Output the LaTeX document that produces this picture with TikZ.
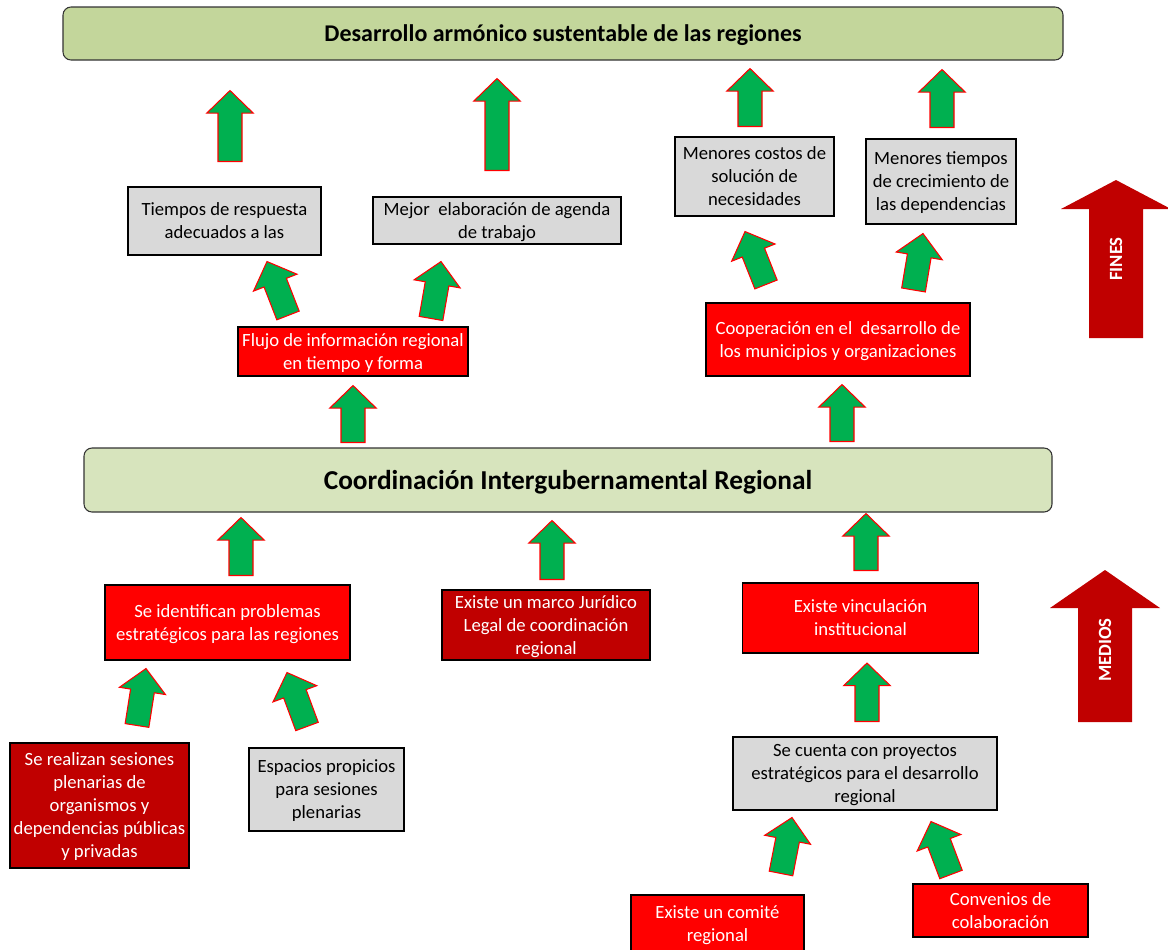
\documentclass[tikz,border=0pt]{standalone}
\usepackage{fontspec}
\setmainfont{Carlito}
\usetikzlibrary{calc}

\definecolor{topgreen}{HTML}{C3D69B}
\definecolor{midgreen}{HTML}{D7E4BD}
\definecolor{boxgray}{HTML}{D9D9D9}
\definecolor{boxred}{HTML}{FF0000}
\definecolor{darkred}{HTML}{C00000}
\definecolor{arrowgreen}{HTML}{00B050}

% block arrow from (#1)+(#2) up to (#3)+(#4)
\newcommand\garrow[4]{%
  \path ($(#1)+(#2)$) coordinate (ga) ($(#3)+(#4)$) coordinate (gb)
    ($(gb)!17pt!(ga)$) coordinate (gh);
  \draw[uparrow] ($(ga)!9pt!90:(gb)$) -- ($(gh)!9pt!90:(gb)$) -- ($(gh)!17.5pt!90:(gb)$) -- (gb)
    -- ($(gh)!17.5pt!-90:(gb)$) -- ($(gh)!9pt!-90:(gb)$) -- ($(ga)!9pt!-90:(gb)$) -- cycle;}

\begin{document}
\begin{tikzpicture}[x=0.75pt,y=-0.75pt,
  box/.style={draw=black,line width=0.8pt,align=center,inner sep=1pt,text depth=0pt,font=\fontsize{14}{17.25}\selectfont},
  sz/.style 2 args={minimum width=#1*0.75pt,minimum height=#2*0.75pt},
  graybox/.style={box,fill=boxgray},
  redbox/.style={box,fill=boxred,text=white},
  darkbox/.style={box,fill=darkred,text=white},
  titlebox/.style={draw=black!80,line width=0.8pt,rounded corners=6pt,text depth=0pt},
  uparrow/.style={fill=arrowgreen,draw=red,line width=0.8pt,line join=miter},
  sidelabel/.style={rotate=90,text=white,font=\bfseries\fontsize{14}{16}\selectfont}]
\useasboundingbox (0,0) rectangle (1168,950);

\node[titlebox,fill=topgreen,sz={1000}{53},font=\bfseries\fontsize{18}{22}\selectfont] (top) at (563,33.5) {Desarrollo armónico sustentable de las regiones};
\node[titlebox,fill=midgreen,sz={968}{64},font=\bfseries\fontsize{20.5}{24}\selectfont] (coord) at (568,480) {Coordinación Intergubernamental Regional};

% fines
\node[graybox,sz={193}{68}] (tiempos) at (224.5,221) {Tiempos de respuesta\\adecuados a las};
\node[graybox,sz={248}{47}] (agenda) at (497,220.5) {Mejor~ elaboración de agenda\\de trabajo};
\node[graybox,sz={159}{79}] (costos) at (754.5,176.5) {Menores costos de\\solución de\\necesidades};
\node[graybox,sz={150}{85}] (crecim) at (941,181.5) {Menores tiempos\\de crecimiento de\\las dependencias};
\node[redbox,sz={230}{49}] (flujo) at (353,351.5) {Flujo de información regional\\en tiempo y forma};
\node[redbox,sz={264}{73}] (coop) at (838,339.5) {Cooperación en el~ desarrollo de\\los municipios y organizaciones};

% medios
\node[redbox,sz={245}{75}] (problemas) at (227.5,622.5) {Se identifican problemas\\estratégicos para las regiones};
\node[darkbox,sz={208}{70}] (marco) at (546,625) {Existe un marco Jurídico\\Legal de coordinación\\regional};
\node[redbox,sz={236}{70}] (vinculo) at (860.5,618) {Existe vinculación\\institucional};
\node[darkbox,sz={179}{125}] (sesiones) at (99.5,805.5) {Se realizan sesiones\\plenarias de\\organismos y\\dependencias públicas\\y privadas};
\node[graybox,sz={155}{83}] (espacios) at (326.5,789.5) {Espacios propicios\\para sesiones\\plenarias};
\node[graybox,sz={264}{73}] (proyectos) at (865,773.5) {Se cuenta con proyectos\\estratégicos para el desarrollo\\regional};
\node[redbox,sz={173}{58}] (comite) at (717.5,924) {Existe un comité\\regional};
\node[redbox,sz={175}{53}] (convenios) at (1000.5,910.5) {Convenios de\\colaboración};

\garrow{tiempos.north}{5.5,-25}{top.south}{-333,30}
\garrow{agenda.north}{0,-26}{top.south}{-66,18}
\garrow{costos.north}{-4.5,-10}{top.south}{187,8}
\garrow{crecim.north}{1,-11}{top.south}{379,9}
\garrow{flujo.north}{-65,-11}{tiempos.south}{42.5,6}
\garrow{flujo.north}{78,-8}{agenda.south}{-56,17}
\garrow{coop.north}{-72,-18}{costos.south}{-9.5,15}
\garrow{coop.north}{75.5,-12.5}{crecim.south}{-18,9}
\garrow{coord.north}{-215,-5}{flujo.south}{0,9}
\garrow{coord.north}{274,-6}{coop.south}{4,8}
\garrow{problemas.north}{13.5,-9}{coord.south}{-327,5}
\garrow{marco.north}{6,-10}{coord.south}{-16,8}
\garrow{vinculo.north}{5.5,-12}{coord.south}{298,1}
\garrow{proyectos.north}{2,-15}{vinculo.south}{6.5,9.5}
\garrow{sesiones.north}{37.5,-17}{problemas.south}{-81.5,8}
\garrow{espacios.north}{-19.5,-21}{problemas.south}{59.5,12}
\garrow{comite.north}{63.5,-21}{proyectos.south}{-73,7}
\garrow{convenios.north}{-49.5,-9}{proyectos.south}{66,11}

% big side arrows
\fill[darkred] (1089,338) -- (1089,209) -- (1061,209) -- (1116,180) -- (1171,209) -- (1143,209) -- (1143,338) -- cycle;
\node[sidelabel] (fines) at (1116,259) {FINES};
\fill[darkred] (1078,722) -- (1078,608) -- (1050,608) -- (1105,570) -- (1160,608) -- (1132,608) -- (1132,722) -- cycle;
\node[sidelabel] (medios) at (1105,650) {MEDIOS};
\end{tikzpicture}
\end{document}
